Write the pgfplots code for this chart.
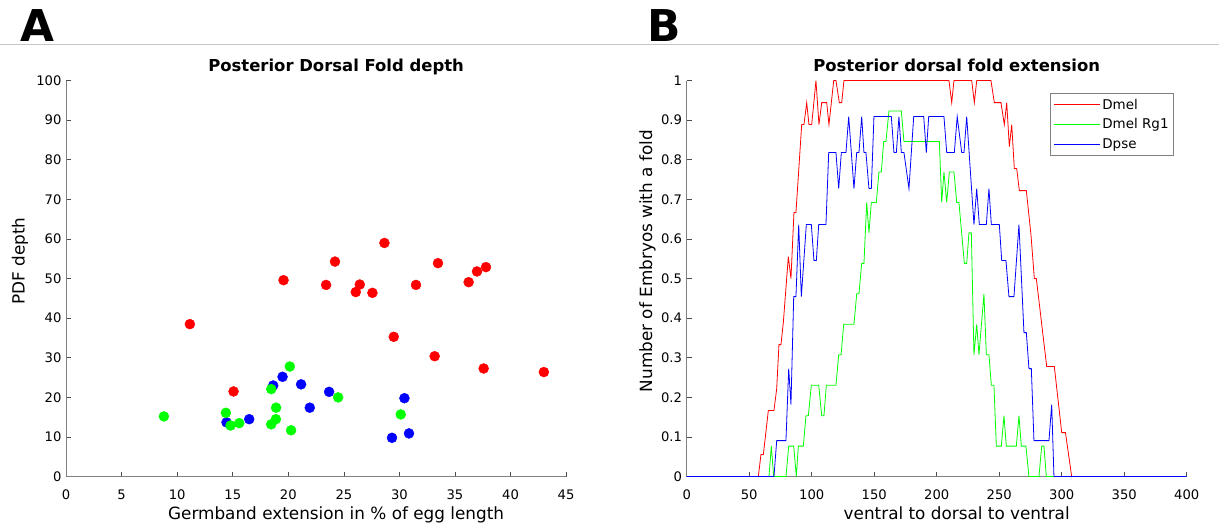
\documentclass[border=0pt]{standalone}
\usepackage{fontspec}
\setmainfont{DejaVu Sans}
\usepackage{pgfplots}
\pgfplotsset{compat=1.18}

\pgfplotsset{
  panel/.style={
    scale only axis,
    width=500bp, height=396bp,
    axis lines*=left,
    axis line style={gray, line width=0.9bp},
    tick align=inside,
    major tick length=5bp,
    tick style={black!70, line width=0.7bp},
    ticklabel style={font=\fontsize{13.2}{14}\selectfont, inner sep=0pt},
    xticklabel style={anchor=base, yshift=-23bp},
    yticklabel style={anchor=east, xshift=-4.5bp},
    label style={font=\fontsize{16.9}{18}\selectfont},
    xlabel style={at={(axis description cs:0.54,0)}, anchor=base, yshift=-43bp},
    title style={font=\fontsize{16.5}{18}\bfseries\selectfont,
      at={(axis description cs:0.5,1)}, anchor=base, yshift=3bp, xshift=20bp},
    /pgf/number format/assume math mode=true,
    clip=false,
  },
}

\begin{document}
\begin{tikzpicture}
\path[use as bounding box] (0bp,0bp) rectangle (1219bp,527bp);
\draw[gray!45, line width=1bp] (0bp,482bp) -- (1219bp,482bp);
\node[anchor=base west, inner sep=0pt, font=\fontsize{44}{44}\bfseries\selectfont] at (20bp,485.3bp) {A};
\node[anchor=base west, inner sep=0pt, font=\fontsize{44}{44}\bfseries\selectfont] at (647bp,485.3bp) {B};

% Panel A
\begin{axis}[panel,
  at={(66.1bp,50.4bp)}, anchor=south west,
  xmin=0, xmax=45, ymin=0, ymax=100,
  xtick={0,5,...,45}, ytick={0,10,...,100},
  title={Posterior Dorsal Fold depth},
  xlabel={Germband extension in \% of egg length},
  ylabel={PDF depth},
  ylabel style={at={(axis description cs:-0.083,0.544)}, anchor=base},
]
% Dmel
\addplot[only marks, mark=*, mark size=5bp, color=red, mark options={draw=none, fill=red}] coordinates {
  (11.14,38.5) (15.07,21.5) (19.57,49.6) (23.4,48.4) (24.2,54.3) (26.07,46.6)
  (26.43,48.5) (27.57,46.4) (28.65,59.0) (29.49,35.3) (31.49,48.4) (33.17,30.4)
  (33.47,53.9) (36.23,49.1) (36.98,51.8) (37.79,52.9) (37.58,27.3) (43.0,26.4)
};
% Dpse
\addplot[only marks, mark=*, mark size=5bp, color=blue, mark options={draw=none, fill=blue}] coordinates {
  (14.44,13.7) (16.48,14.5) (18.64,23.0) (19.48,25.2) (21.15,23.3) (21.93,17.4)
  (23.67,21.4) (30.45,19.8) (29.33,9.8) (30.86,10.9)
};
% Dmel Rg1
\addplot[only marks, mark=*, mark size=5bp, color=green, mark options={draw=none, fill=green}] coordinates {
  (8.8,15.2) (14.38,16.1) (14.8,12.9) (15.58,13.5) (18.46,22.1) (18.9,17.4)
  (18.88,14.5) (18.46,13.2) (20.13,27.8) (20.25,11.7) (24.48,20.0) (30.12,15.7)
};
\end{axis}

% Panel B
\begin{axis}[panel,
  at={(686.7bp,50.4bp)}, anchor=south west,
  xmin=0, xmax=400, ymin=0, ymax=1,
  xtick={0,50,...,400}, ytick={0,0.1,...,1},
  yticklabel style={/pgf/number format/fixed, /pgf/number format/precision=1},
  title={Posterior dorsal fold extension},
  xlabel={ventral to dorsal to ventral},
  ylabel={Number of Embryos with a fold},
  ylabel style={at={(axis description cs:-0.0694,0.544)}, anchor=base},
  legend cell align=left,
  legend style={at={(axis description cs:0.9746,0.9687)}, anchor=north east,
    draw=gray, line width=0.9bp, font=\fontsize{13.5}{15}\selectfont,
    inner xsep=3bp, inner ysep=3.5bp, row sep=4bp},
  legend image code/.code={\draw[#1, line width=0.8bp] (0bp,0bp) -- (46bp,0bp);},
]
\addplot[red, line width=0.8bp] coordinates {
  (0,0) (57.3,0) (59.4,0.0556) (61.3,0.0556) (65.3,0.1667) (69.8,0.1667)
  (72,0.2222) (73.8,0.3333) (75.4,0.3333) (77.3,0.3889) (81.3,0.5556)
  (83.4,0.5) (85.8,0.6667) (87.4,0.6667) (92,0.8889) (93.8,0.8889)
  (96,0.9444) (97.8,0.8889) (100,0.8889) (103.4,1) (105.8,0.8889)
  (108,0.9444) (112,0.9444) (113.8,0.8889) (117.6,1) (119.4,1)
  (122.1,0.9444) (124,0.9444) (125.8,1) (209.8,1) (212,0.9444) (213.8,1)
  (228,1) (230.1,0.9444) (232,1) (243.4,1) (246.1,0.9444) (251.4,0.9444)
  (254.1,0.8889) (256,0.9444) (258.1,0.8333) (260,0.8889) (262.1,0.7778)
  (264,0.7778) (266.1,0.7222) (271.7,0.7222) (275.4,0.6111) (278.1,0.5)
  (279.7,0.5) (288,0.2778) (294.1,0.2778) (300,0.1111) (303,0.1111)
  (308,0) (400,0)
};
\addlegendentry{Dmel}
\addplot[green, line width=0.8bp] coordinates {
  (0,0) (65.8,0) (67.7,0.0769) (69.6,0) (79.4,0) (81.6,0.0769) (85.6,0.0769)
  (87.7,0) (89.3,0.0769) (93.3,0.0769) (95.4,0.1538) (97.3,0.1538)
  (99.7,0.2308) (105.6,0.2308) (108,0.1538) (109.8,0.1538) (111.7,0.2308)
  (119.4,0.2308) (121.6,0.3077) (123.5,0.3077) (125.6,0.3846) (133.8,0.3846)
  (136,0.4615) (137.8,0.4615) (140,0.5385) (141.8,0.5385) (144,0.6923)
  (145.8,0.6154) (147.7,0.6923) (151.7,0.6923) (153.8,0.7692) (155.7,0.7692)
  (157.6,0.8462) (159.4,0.8462) (161.8,0.9231) (171.7,0.9231) (173.8,0.8462)
  (202.1,0.8462) (204,0.6923) (205.8,0.7692) (208,0.6923) (210.1,0.7692)
  (213.8,0.7692) (216,0.6923) (217.8,0.6923) (222.1,0.5385) (224,0.5385)
  (225.8,0.6154) (227.7,0.6154) (229.8,0.3077) (232,0.3846) (233.8,0.3077)
  (237.8,0.4615) (239.7,0.3077) (241.8,0.3077) (243.7,0.2308) (245.8,0.2308)
  (247.7,0.0769) (251.7,0.0769) (253.8,0.1538) (255.7,0.0769) (263.7,0.0769)
  (265.8,0.1538) (267.7,0.0769) (271.4,0.0769) (273.8,0) (281.8,0)
  (284,0.0769) (285.8,0.0769) (287.7,0) (400,0)
};
\addlegendentry{Dmel Rg1}
\addplot[blue, line width=0.8bp] coordinates {
  (0,0) (69.8,0) (72,0.0909) (79.4,0.0909) (81.6,0.2727) (83.4,0.1818)
  (85.6,0.4545) (87.4,0.4545) (89.6,0.6364) (91.7,0.4545) (95.7,0.6364)
  (99.7,0.6364) (101.8,0.5455) (103.7,0.5455) (105.6,0.6364) (111.4,0.6364)
  (113.6,0.8182) (119.4,0.8182) (121.6,0.7273) (123.7,0.8182) (127.4,0.8182)
  (129.6,0.9091) (133.8,0.7273) (136,0.8182) (137.8,0.8182) (140,0.9091)
  (141.8,0.8182) (143.4,0.8182) (145.8,0.7273) (147.7,0.7273) (149.8,0.9091)
  (163.7,0.9091) (165.8,0.8182) (167.7,0.8182) (169.8,0.9091) (171.7,0.8182)
  (173.8,0.8182) (177.8,0.7273) (181.6,0.9091) (189.6,0.9091) (191.7,0.8182)
  (193.6,0.9091) (205.8,0.9091) (208,0.8182) (214.1,0.8182) (216.4,0.9091)
  (220,0.8182) (221.8,0.8182) (224,0.9091) (229.8,0.6364) (232,0.7273)
  (234.1,0.6364) (239.7,0.6364) (241.8,0.7273) (243.7,0.6364) (250.1,0.6364)
  (252,0.5455) (255.4,0.5455) (257.8,0.4545) (261.8,0.4545) (265.8,0.6364)
  (269.8,0.3636) (271.7,0.3636) (273.8,0.2727) (275.7,0.2727) (277.8,0.0909)
  (289.8,0.0909) (292,0.1818) (293.8,0) (400,0)
};
\addlegendentry{Dpse}
\end{axis}
\end{tikzpicture}
\end{document}
